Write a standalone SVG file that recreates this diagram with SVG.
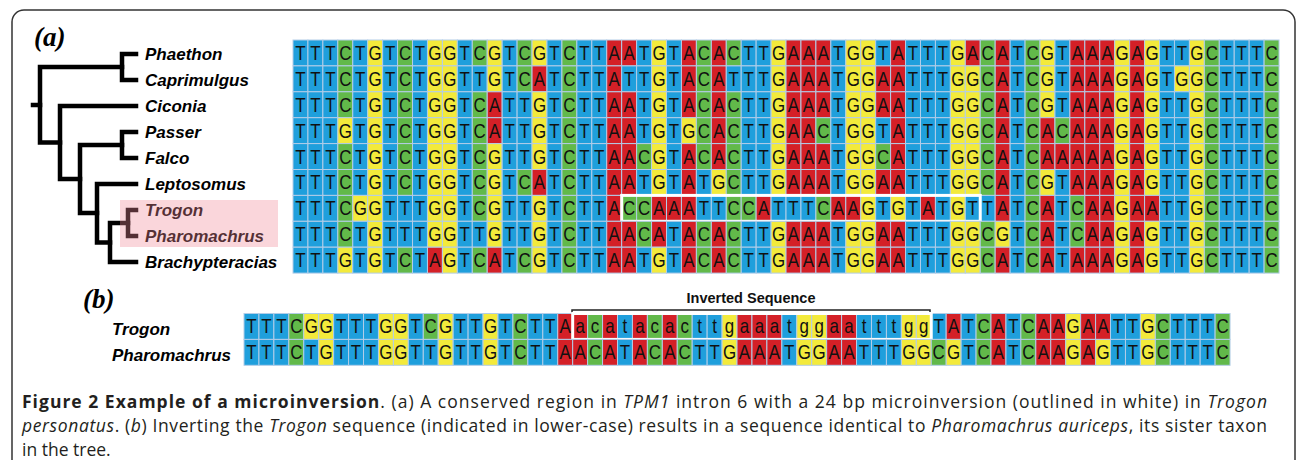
<svg xmlns="http://www.w3.org/2000/svg" width="1298" height="460" viewBox="0 0 1298 460">
<style>
.ca{fill:#d42027}.cc{fill:#62b94a}.cg{fill:#f3ea3b}.ct{fill:#1f9fdc}
.ca,.cc,.cg,.ct{stroke:#b3cde8;stroke-width:1}
.nt{font-family:"Liberation Sans",Arial,sans-serif;font-size:20px;fill:#111;text-anchor:middle}
.tree{fill:none;stroke:#000;stroke-width:4.5;stroke-linecap:square}
.lab{font-family:"Liberation Sans",Arial,sans-serif;font-size:17px;font-weight:bold;font-style:italic;fill:#000}
.pl{font-family:"Liberation Serif","Times New Roman",serif;font-size:27px;font-weight:bold;font-style:italic;fill:#000}
.cap{font-family:"Open Sans",sans-serif;font-size:17.5px;fill:#231f20}
.box{fill:none;stroke:#fff;stroke-width:3}
.inv{font-family:"Liberation Sans",Arial,sans-serif;font-size:14.5px;font-weight:bold;fill:#111;text-anchor:middle}
</style>
<defs>
<g id="A"><rect class="ca" width="15" height="25.9"/><text class="nt" transform="scale(0.85,1)" x="8.82" y="20">A</text></g>
<g id="C"><rect class="cc" width="15" height="25.9"/><text class="nt" transform="scale(0.85,1)" x="8.82" y="20">C</text></g>
<g id="G"><rect class="cg" width="15" height="25.9"/><text class="nt" transform="scale(0.85,1)" x="8.82" y="20">G</text></g>
<g id="T"><rect class="ct" width="15" height="25.9"/><text class="nt" transform="scale(0.85,1)" x="8.82" y="20">T</text></g>
<g id="la"><rect class="ca" width="15" height="25.9"/><text class="nt" transform="scale(0.85,1)" x="8.82" y="20">a</text></g>
<g id="lc"><rect class="cc" width="15" height="25.9"/><text class="nt" transform="scale(0.85,1)" x="8.82" y="20">c</text></g>
<g id="lg"><rect class="cg" width="15" height="25.9"/><text class="nt" transform="scale(0.85,1)" x="8.82" y="20">g</text></g>
<g id="lt"><rect class="ct" width="15" height="25.9"/><text class="nt" transform="scale(0.85,1)" x="8.82" y="20">t</text></g>
</defs>
<rect width="1298" height="460" fill="#fff"/>
<rect id="frame" x="12" y="10" width="1283" height="490" rx="12" fill="none" stroke="#333" stroke-width="1.5"/>
<text class="pl" x="34" y="46">(a)</text>
<text class="pl" x="83" y="308">(b)</text>

<g id="connectors" class="tree">
<path d="M136,54H122V80H136"/>
<path d="M136,132H122V158H136"/>
<path d="M136,210H128V236H136"/>
<path d="M122,67H40V142.5H60"/>
<path d="M33,105H40"/>
<path d="M136,106H60V179H80"/>
<path d="M122,145H80V213H97"/>
<path d="M136,184H97V242.5H110"/>
<path d="M128,223H110V262H136"/>
</g>

<g id="node-phaethon"><text class="lab" x="145" y="60">Phaethon</text></g>
<g id="node-caprimulgus"><text class="lab" x="145" y="86">Caprimulgus</text></g>
<g id="node-ciconia"><text class="lab" x="145" y="112">Ciconia</text></g>
<g id="node-passer"><text class="lab" x="145" y="138">Passer</text></g>
<g id="node-falco"><text class="lab" x="145" y="164">Falco</text></g>
<g id="node-leptosomus"><text class="lab" x="145" y="190">Leptosomus</text></g>
<g id="node-trogon"><text class="lab" x="145" y="216">Trogon</text></g>
<g id="node-pharomachrus"><text class="lab" x="145" y="242">Pharomachrus</text></g>
<g id="node-brachypteracias"><text class="lab" x="145" y="268">Brachypteracias</text></g>
<rect id="highlight" x="120" y="200" width="158" height="47" fill="#f08a98" opacity="0.35"/>

<g id="row-phaethon" transform="translate(293,40) scale(0.996,1)">
<use href="#T" x="0"/><use href="#T" x="15"/><use href="#T" x="30"/><use href="#C" x="45"/><use href="#T" x="60"/><use href="#G" x="75"/><use href="#T" x="90"/><use href="#C" x="105"/><use href="#T" x="120"/><use href="#G" x="135"/>
<use href="#G" x="150"/><use href="#T" x="165"/><use href="#C" x="180"/><use href="#G" x="195"/><use href="#T" x="210"/><use href="#C" x="225"/><use href="#G" x="240"/><use href="#T" x="255"/><use href="#C" x="270"/><use href="#T" x="285"/>
<use href="#T" x="300"/><use href="#A" x="315"/><use href="#A" x="330"/><use href="#T" x="345"/><use href="#G" x="360"/><use href="#T" x="375"/><use href="#A" x="390"/><use href="#C" x="405"/><use href="#A" x="420"/><use href="#C" x="435"/>
<use href="#T" x="450"/><use href="#T" x="465"/><use href="#G" x="480"/><use href="#A" x="495"/><use href="#A" x="510"/><use href="#A" x="525"/><use href="#T" x="540"/><use href="#G" x="555"/><use href="#G" x="570"/><use href="#T" x="585"/>
<use href="#A" x="600"/><use href="#T" x="615"/><use href="#T" x="630"/><use href="#T" x="645"/><use href="#G" x="660"/><use href="#A" x="675"/><use href="#C" x="690"/><use href="#A" x="705"/><use href="#T" x="720"/><use href="#C" x="735"/>
<use href="#G" x="750"/><use href="#T" x="765"/><use href="#A" x="780"/><use href="#A" x="795"/><use href="#A" x="810"/><use href="#G" x="825"/><use href="#A" x="840"/><use href="#G" x="855"/><use href="#T" x="870"/><use href="#T" x="885"/>
<use href="#G" x="900"/><use href="#C" x="915"/><use href="#T" x="930"/><use href="#T" x="945"/><use href="#T" x="960"/><use href="#C" x="975"/>
</g>

<g id="row-caprimulgus" transform="translate(293,65.9) scale(0.996,1)">
<use href="#T" x="0"/><use href="#T" x="15"/><use href="#T" x="30"/><use href="#C" x="45"/><use href="#T" x="60"/><use href="#G" x="75"/><use href="#T" x="90"/><use href="#C" x="105"/><use href="#T" x="120"/><use href="#G" x="135"/>
<use href="#G" x="150"/><use href="#T" x="165"/><use href="#T" x="180"/><use href="#G" x="195"/><use href="#T" x="210"/><use href="#C" x="225"/><use href="#A" x="240"/><use href="#T" x="255"/><use href="#C" x="270"/><use href="#T" x="285"/>
<use href="#T" x="300"/><use href="#A" x="315"/><use href="#T" x="330"/><use href="#T" x="345"/><use href="#G" x="360"/><use href="#T" x="375"/><use href="#A" x="390"/><use href="#C" x="405"/><use href="#A" x="420"/><use href="#T" x="435"/>
<use href="#T" x="450"/><use href="#T" x="465"/><use href="#G" x="480"/><use href="#A" x="495"/><use href="#A" x="510"/><use href="#A" x="525"/><use href="#T" x="540"/><use href="#G" x="555"/><use href="#G" x="570"/><use href="#A" x="585"/>
<use href="#A" x="600"/><use href="#T" x="615"/><use href="#T" x="630"/><use href="#T" x="645"/><use href="#G" x="660"/><use href="#G" x="675"/><use href="#C" x="690"/><use href="#A" x="705"/><use href="#T" x="720"/><use href="#C" x="735"/>
<use href="#G" x="750"/><use href="#T" x="765"/><use href="#A" x="780"/><use href="#A" x="795"/><use href="#A" x="810"/><use href="#G" x="825"/><use href="#A" x="840"/><use href="#G" x="855"/><use href="#T" x="870"/><use href="#G" x="885"/>
<use href="#G" x="900"/><use href="#C" x="915"/><use href="#T" x="930"/><use href="#T" x="945"/><use href="#T" x="960"/><use href="#C" x="975"/>
</g>

<g id="row-ciconia" transform="translate(293,91.8) scale(0.996,1)">
<use href="#T" x="0"/><use href="#T" x="15"/><use href="#T" x="30"/><use href="#C" x="45"/><use href="#T" x="60"/><use href="#G" x="75"/><use href="#T" x="90"/><use href="#C" x="105"/><use href="#T" x="120"/><use href="#G" x="135"/>
<use href="#G" x="150"/><use href="#T" x="165"/><use href="#C" x="180"/><use href="#A" x="195"/><use href="#T" x="210"/><use href="#T" x="225"/><use href="#G" x="240"/><use href="#T" x="255"/><use href="#C" x="270"/><use href="#T" x="285"/>
<use href="#T" x="300"/><use href="#A" x="315"/><use href="#A" x="330"/><use href="#T" x="345"/><use href="#G" x="360"/><use href="#T" x="375"/><use href="#A" x="390"/><use href="#C" x="405"/><use href="#A" x="420"/><use href="#C" x="435"/>
<use href="#T" x="450"/><use href="#T" x="465"/><use href="#G" x="480"/><use href="#A" x="495"/><use href="#A" x="510"/><use href="#A" x="525"/><use href="#T" x="540"/><use href="#G" x="555"/><use href="#G" x="570"/><use href="#A" x="585"/>
<use href="#A" x="600"/><use href="#T" x="615"/><use href="#T" x="630"/><use href="#T" x="645"/><use href="#G" x="660"/><use href="#G" x="675"/><use href="#C" x="690"/><use href="#A" x="705"/><use href="#T" x="720"/><use href="#C" x="735"/>
<use href="#G" x="750"/><use href="#T" x="765"/><use href="#A" x="780"/><use href="#A" x="795"/><use href="#A" x="810"/><use href="#G" x="825"/><use href="#A" x="840"/><use href="#G" x="855"/><use href="#T" x="870"/><use href="#T" x="885"/>
<use href="#G" x="900"/><use href="#C" x="915"/><use href="#T" x="930"/><use href="#T" x="945"/><use href="#T" x="960"/><use href="#C" x="975"/>
</g>

<g id="row-passer" transform="translate(293,117.7) scale(0.996,1)">
<use href="#T" x="0"/><use href="#T" x="15"/><use href="#T" x="30"/><use href="#G" x="45"/><use href="#T" x="60"/><use href="#G" x="75"/><use href="#T" x="90"/><use href="#C" x="105"/><use href="#T" x="120"/><use href="#G" x="135"/>
<use href="#G" x="150"/><use href="#T" x="165"/><use href="#C" x="180"/><use href="#A" x="195"/><use href="#T" x="210"/><use href="#T" x="225"/><use href="#G" x="240"/><use href="#T" x="255"/><use href="#C" x="270"/><use href="#T" x="285"/>
<use href="#T" x="300"/><use href="#A" x="315"/><use href="#A" x="330"/><use href="#T" x="345"/><use href="#G" x="360"/><use href="#T" x="375"/><use href="#G" x="390"/><use href="#C" x="405"/><use href="#A" x="420"/><use href="#C" x="435"/>
<use href="#T" x="450"/><use href="#T" x="465"/><use href="#G" x="480"/><use href="#A" x="495"/><use href="#A" x="510"/><use href="#C" x="525"/><use href="#T" x="540"/><use href="#G" x="555"/><use href="#G" x="570"/><use href="#T" x="585"/>
<use href="#A" x="600"/><use href="#T" x="615"/><use href="#T" x="630"/><use href="#T" x="645"/><use href="#G" x="660"/><use href="#G" x="675"/><use href="#C" x="690"/><use href="#A" x="705"/><use href="#T" x="720"/><use href="#C" x="735"/>
<use href="#A" x="750"/><use href="#C" x="765"/><use href="#A" x="780"/><use href="#A" x="795"/><use href="#A" x="810"/><use href="#G" x="825"/><use href="#A" x="840"/><use href="#G" x="855"/><use href="#T" x="870"/><use href="#T" x="885"/>
<use href="#G" x="900"/><use href="#C" x="915"/><use href="#T" x="930"/><use href="#T" x="945"/><use href="#T" x="960"/><use href="#C" x="975"/>
</g>

<g id="row-falco" transform="translate(293,143.6) scale(0.996,1)">
<use href="#T" x="0"/><use href="#T" x="15"/><use href="#T" x="30"/><use href="#C" x="45"/><use href="#T" x="60"/><use href="#G" x="75"/><use href="#T" x="90"/><use href="#C" x="105"/><use href="#T" x="120"/><use href="#G" x="135"/>
<use href="#G" x="150"/><use href="#T" x="165"/><use href="#C" x="180"/><use href="#G" x="195"/><use href="#T" x="210"/><use href="#T" x="225"/><use href="#G" x="240"/><use href="#T" x="255"/><use href="#C" x="270"/><use href="#T" x="285"/>
<use href="#T" x="300"/><use href="#A" x="315"/><use href="#A" x="330"/><use href="#C" x="345"/><use href="#G" x="360"/><use href="#T" x="375"/><use href="#A" x="390"/><use href="#C" x="405"/><use href="#A" x="420"/><use href="#C" x="435"/>
<use href="#T" x="450"/><use href="#T" x="465"/><use href="#G" x="480"/><use href="#A" x="495"/><use href="#A" x="510"/><use href="#A" x="525"/><use href="#T" x="540"/><use href="#G" x="555"/><use href="#G" x="570"/><use href="#C" x="585"/>
<use href="#A" x="600"/><use href="#T" x="615"/><use href="#T" x="630"/><use href="#T" x="645"/><use href="#G" x="660"/><use href="#G" x="675"/><use href="#C" x="690"/><use href="#A" x="705"/><use href="#T" x="720"/><use href="#C" x="735"/>
<use href="#A" x="750"/><use href="#A" x="765"/><use href="#A" x="780"/><use href="#A" x="795"/><use href="#A" x="810"/><use href="#G" x="825"/><use href="#A" x="840"/><use href="#G" x="855"/><use href="#T" x="870"/><use href="#T" x="885"/>
<use href="#G" x="900"/><use href="#C" x="915"/><use href="#T" x="930"/><use href="#T" x="945"/><use href="#T" x="960"/><use href="#C" x="975"/>
</g>

<g id="row-leptosomus" transform="translate(293,169.5) scale(0.996,1)">
<use href="#T" x="0"/><use href="#T" x="15"/><use href="#T" x="30"/><use href="#C" x="45"/><use href="#T" x="60"/><use href="#G" x="75"/><use href="#T" x="90"/><use href="#C" x="105"/><use href="#T" x="120"/><use href="#G" x="135"/>
<use href="#G" x="150"/><use href="#T" x="165"/><use href="#C" x="180"/><use href="#G" x="195"/><use href="#T" x="210"/><use href="#C" x="225"/><use href="#A" x="240"/><use href="#T" x="255"/><use href="#C" x="270"/><use href="#T" x="285"/>
<use href="#T" x="300"/><use href="#A" x="315"/><use href="#A" x="330"/><use href="#T" x="345"/><use href="#G" x="360"/><use href="#T" x="375"/><use href="#A" x="390"/><use href="#T" x="405"/><use href="#G" x="420"/><use href="#C" x="435"/>
<use href="#T" x="450"/><use href="#T" x="465"/><use href="#G" x="480"/><use href="#A" x="495"/><use href="#A" x="510"/><use href="#A" x="525"/><use href="#T" x="540"/><use href="#G" x="555"/><use href="#G" x="570"/><use href="#A" x="585"/>
<use href="#A" x="600"/><use href="#T" x="615"/><use href="#T" x="630"/><use href="#T" x="645"/><use href="#G" x="660"/><use href="#G" x="675"/><use href="#C" x="690"/><use href="#A" x="705"/><use href="#T" x="720"/><use href="#C" x="735"/>
<use href="#G" x="750"/><use href="#T" x="765"/><use href="#A" x="780"/><use href="#A" x="795"/><use href="#A" x="810"/><use href="#G" x="825"/><use href="#A" x="840"/><use href="#G" x="855"/><use href="#T" x="870"/><use href="#T" x="885"/>
<use href="#G" x="900"/><use href="#C" x="915"/><use href="#T" x="930"/><use href="#T" x="945"/><use href="#T" x="960"/><use href="#C" x="975"/>
</g>

<g id="row-trogon" transform="translate(293,195.4) scale(0.996,1)">
<use href="#T" x="0"/><use href="#T" x="15"/><use href="#T" x="30"/><use href="#C" x="45"/><use href="#G" x="60"/><use href="#G" x="75"/><use href="#T" x="90"/><use href="#T" x="105"/><use href="#T" x="120"/><use href="#G" x="135"/>
<use href="#G" x="150"/><use href="#T" x="165"/><use href="#C" x="180"/><use href="#G" x="195"/><use href="#T" x="210"/><use href="#T" x="225"/><use href="#G" x="240"/><use href="#T" x="255"/><use href="#C" x="270"/><use href="#T" x="285"/>
<use href="#T" x="300"/><use href="#A" x="315"/><use href="#C" x="330"/><use href="#C" x="345"/><use href="#A" x="360"/><use href="#A" x="375"/><use href="#A" x="390"/><use href="#T" x="405"/><use href="#T" x="420"/><use href="#C" x="435"/>
<use href="#C" x="450"/><use href="#A" x="465"/><use href="#T" x="480"/><use href="#T" x="495"/><use href="#T" x="510"/><use href="#C" x="525"/><use href="#A" x="540"/><use href="#A" x="555"/><use href="#G" x="570"/><use href="#T" x="585"/>
<use href="#G" x="600"/><use href="#T" x="615"/><use href="#A" x="630"/><use href="#T" x="645"/><use href="#G" x="660"/><use href="#T" x="675"/><use href="#T" x="690"/><use href="#A" x="705"/><use href="#T" x="720"/><use href="#C" x="735"/>
<use href="#A" x="750"/><use href="#T" x="765"/><use href="#C" x="780"/><use href="#A" x="795"/><use href="#A" x="810"/><use href="#G" x="825"/><use href="#A" x="840"/><use href="#A" x="855"/><use href="#T" x="870"/><use href="#T" x="885"/>
<use href="#G" x="900"/><use href="#C" x="915"/><use href="#T" x="930"/><use href="#T" x="945"/><use href="#T" x="960"/><use href="#C" x="975"/>
<rect class="box" x="330" y="0" width="360" height="25.9"/>
</g>

<g id="row-pharomachrus" transform="translate(293,221.3) scale(0.996,1)">
<use href="#T" x="0"/><use href="#T" x="15"/><use href="#T" x="30"/><use href="#C" x="45"/><use href="#T" x="60"/><use href="#G" x="75"/><use href="#T" x="90"/><use href="#T" x="105"/><use href="#T" x="120"/><use href="#G" x="135"/>
<use href="#G" x="150"/><use href="#T" x="165"/><use href="#T" x="180"/><use href="#G" x="195"/><use href="#T" x="210"/><use href="#T" x="225"/><use href="#G" x="240"/><use href="#T" x="255"/><use href="#C" x="270"/><use href="#T" x="285"/>
<use href="#T" x="300"/><use href="#A" x="315"/><use href="#A" x="330"/><use href="#C" x="345"/><use href="#A" x="360"/><use href="#T" x="375"/><use href="#A" x="390"/><use href="#C" x="405"/><use href="#A" x="420"/><use href="#C" x="435"/>
<use href="#T" x="450"/><use href="#T" x="465"/><use href="#G" x="480"/><use href="#A" x="495"/><use href="#A" x="510"/><use href="#A" x="525"/><use href="#T" x="540"/><use href="#G" x="555"/><use href="#G" x="570"/><use href="#A" x="585"/>
<use href="#A" x="600"/><use href="#T" x="615"/><use href="#T" x="630"/><use href="#T" x="645"/><use href="#G" x="660"/><use href="#G" x="675"/><use href="#C" x="690"/><use href="#G" x="705"/><use href="#T" x="720"/><use href="#C" x="735"/>
<use href="#A" x="750"/><use href="#T" x="765"/><use href="#C" x="780"/><use href="#A" x="795"/><use href="#A" x="810"/><use href="#G" x="825"/><use href="#A" x="840"/><use href="#G" x="855"/><use href="#T" x="870"/><use href="#T" x="885"/>
<use href="#G" x="900"/><use href="#C" x="915"/><use href="#T" x="930"/><use href="#T" x="945"/><use href="#T" x="960"/><use href="#C" x="975"/>
</g>

<g id="row-brachypteracias" transform="translate(293,247.2) scale(0.996,1)">
<use href="#T" x="0"/><use href="#T" x="15"/><use href="#T" x="30"/><use href="#G" x="45"/><use href="#T" x="60"/><use href="#G" x="75"/><use href="#T" x="90"/><use href="#C" x="105"/><use href="#T" x="120"/><use href="#A" x="135"/>
<use href="#G" x="150"/><use href="#T" x="165"/><use href="#C" x="180"/><use href="#A" x="195"/><use href="#T" x="210"/><use href="#C" x="225"/><use href="#G" x="240"/><use href="#T" x="255"/><use href="#C" x="270"/><use href="#T" x="285"/>
<use href="#T" x="300"/><use href="#A" x="315"/><use href="#A" x="330"/><use href="#T" x="345"/><use href="#G" x="360"/><use href="#T" x="375"/><use href="#A" x="390"/><use href="#C" x="405"/><use href="#A" x="420"/><use href="#C" x="435"/>
<use href="#T" x="450"/><use href="#T" x="465"/><use href="#G" x="480"/><use href="#A" x="495"/><use href="#A" x="510"/><use href="#A" x="525"/><use href="#T" x="540"/><use href="#G" x="555"/><use href="#G" x="570"/><use href="#A" x="585"/>
<use href="#A" x="600"/><use href="#T" x="615"/><use href="#T" x="630"/><use href="#T" x="645"/><use href="#G" x="660"/><use href="#G" x="675"/><use href="#C" x="690"/><use href="#A" x="705"/><use href="#T" x="720"/><use href="#C" x="735"/>
<use href="#A" x="750"/><use href="#T" x="765"/><use href="#A" x="780"/><use href="#A" x="795"/><use href="#A" x="810"/><use href="#G" x="825"/><use href="#A" x="840"/><use href="#G" x="855"/><use href="#T" x="870"/><use href="#T" x="885"/>
<use href="#G" x="900"/><use href="#C" x="915"/><use href="#T" x="930"/><use href="#T" x="945"/><use href="#T" x="960"/><use href="#C" x="975"/>
</g>

<g id="inverted-label">
<text class="inv" x="751" y="303">Inverted Sequence</text>
<path d="M572,314V310H930V314" fill="none" stroke="#222" stroke-width="1.5"/>
</g>

<g id="node-b-trogon"><text class="lab" x="112" y="335">Trogon</text></g>
<g id="node-b-pharomachrus"><text class="lab" x="112" y="361">Pharomachrus</text></g>

<g id="row-b-trogon" transform="translate(244,313.5) scale(0.996,1)">
<use href="#T" x="0"/><use href="#T" x="15"/><use href="#T" x="30"/><use href="#C" x="45"/><use href="#G" x="60"/><use href="#G" x="75"/><use href="#T" x="90"/><use href="#T" x="105"/><use href="#T" x="120"/><use href="#G" x="135"/>
<use href="#G" x="150"/><use href="#T" x="165"/><use href="#C" x="180"/><use href="#G" x="195"/><use href="#T" x="210"/><use href="#T" x="225"/><use href="#G" x="240"/><use href="#T" x="255"/><use href="#C" x="270"/><use href="#T" x="285"/>
<use href="#T" x="300"/><use href="#A" x="315"/><use href="#la" x="330"/><use href="#lc" x="345"/><use href="#la" x="360"/><use href="#lt" x="375"/><use href="#la" x="390"/><use href="#lc" x="405"/><use href="#la" x="420"/><use href="#lc" x="435"/>
<use href="#lt" x="450"/><use href="#lt" x="465"/><use href="#lg" x="480"/><use href="#la" x="495"/><use href="#la" x="510"/><use href="#la" x="525"/><use href="#lt" x="540"/><use href="#lg" x="555"/><use href="#lg" x="570"/><use href="#la" x="585"/>
<use href="#la" x="600"/><use href="#lt" x="615"/><use href="#lt" x="630"/><use href="#lt" x="645"/><use href="#lg" x="660"/><use href="#lg" x="675"/><use href="#T" x="690"/><use href="#A" x="705"/><use href="#T" x="720"/><use href="#C" x="735"/>
<use href="#A" x="750"/><use href="#T" x="765"/><use href="#C" x="780"/><use href="#A" x="795"/><use href="#A" x="810"/><use href="#G" x="825"/><use href="#A" x="840"/><use href="#A" x="855"/><use href="#T" x="870"/><use href="#T" x="885"/>
<use href="#G" x="900"/><use href="#C" x="915"/><use href="#T" x="930"/><use href="#T" x="945"/><use href="#T" x="960"/><use href="#C" x="975"/>
<rect class="box" x="330" y="0" width="360" height="25.9"/>
</g>

<g id="row-b-pharomachrus" transform="translate(244,339.4) scale(0.996,1)">
<use href="#T" x="0"/><use href="#T" x="15"/><use href="#T" x="30"/><use href="#C" x="45"/><use href="#T" x="60"/><use href="#G" x="75"/><use href="#T" x="90"/><use href="#T" x="105"/><use href="#T" x="120"/><use href="#G" x="135"/>
<use href="#G" x="150"/><use href="#T" x="165"/><use href="#T" x="180"/><use href="#G" x="195"/><use href="#T" x="210"/><use href="#T" x="225"/><use href="#G" x="240"/><use href="#T" x="255"/><use href="#C" x="270"/><use href="#T" x="285"/>
<use href="#T" x="300"/><use href="#A" x="315"/><use href="#A" x="330"/><use href="#C" x="345"/><use href="#A" x="360"/><use href="#T" x="375"/><use href="#A" x="390"/><use href="#C" x="405"/><use href="#A" x="420"/><use href="#C" x="435"/>
<use href="#T" x="450"/><use href="#T" x="465"/><use href="#G" x="480"/><use href="#A" x="495"/><use href="#A" x="510"/><use href="#A" x="525"/><use href="#T" x="540"/><use href="#G" x="555"/><use href="#G" x="570"/><use href="#A" x="585"/>
<use href="#A" x="600"/><use href="#T" x="615"/><use href="#T" x="630"/><use href="#T" x="645"/><use href="#G" x="660"/><use href="#G" x="675"/><use href="#C" x="690"/><use href="#G" x="705"/><use href="#T" x="720"/><use href="#C" x="735"/>
<use href="#A" x="750"/><use href="#T" x="765"/><use href="#C" x="780"/><use href="#A" x="795"/><use href="#A" x="810"/><use href="#G" x="825"/><use href="#A" x="840"/><use href="#G" x="855"/><use href="#T" x="870"/><use href="#T" x="885"/>
<use href="#G" x="900"/><use href="#C" x="915"/><use href="#T" x="930"/><use href="#T" x="945"/><use href="#T" x="960"/><use href="#C" x="975"/>
</g>

<g id="caption">
<text class="cap" x="22" y="408" textLength="1245" lengthAdjust="spacing"><tspan font-weight="bold">Figure 2 Example of a microinversion</tspan>. (a) A conserved region in <tspan font-style="italic">TPM1</tspan> intron 6 with a 24 bp microinversion (outlined in white) in <tspan font-style="italic">Trogon</tspan></text>
<text class="cap" x="22" y="432" textLength="1245" lengthAdjust="spacing"><tspan font-style="italic">personatus</tspan>. (<tspan font-style="italic">b</tspan>) Inverting the <tspan font-style="italic">Trogon</tspan> sequence (indicated in lower-case) results in a sequence identical to <tspan font-style="italic">Pharomachrus auriceps</tspan>, its sister taxon</text>
<text class="cap" x="22" y="456">in the tree.</text>
</g>
</svg>
